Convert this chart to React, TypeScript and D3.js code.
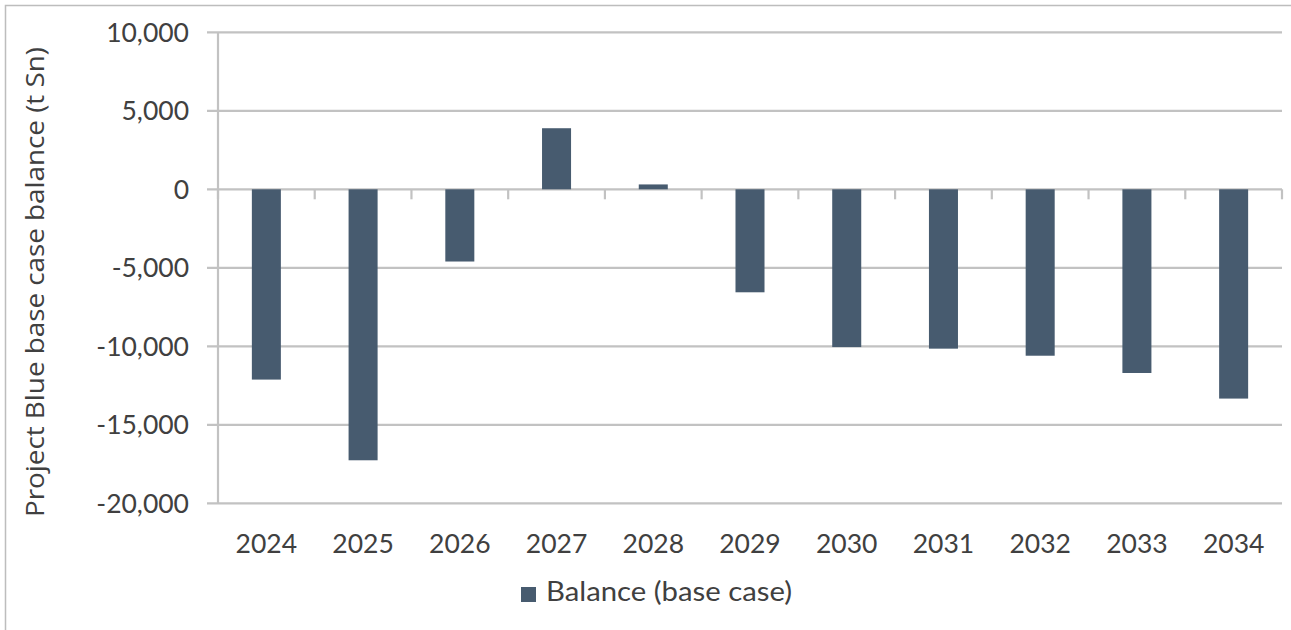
import React from "react";
import * as d3 from "d3";

const years = ["2024", "2025", "2026", "2027", "2028", "2029", "2030", "2031", "2032", "2033", "2034"];
const balance = [-12120, -17260, -4600, 3890, 310, -6560, -10050, -10150, -10600, -11700, -13330];
const yTicks = [10000, 5000, 0, -5000, -10000, -15000, -20000];
const seriesName = "Balance (base case)";
const yTitle = "Project Blue base case balance (t Sn)";

const W = 1291;
const H = 630;
const left = 218;
const right = 1282;
const top = 32.3;
const bottom = 503.3;
const barColor = "#475b6f";
const gridColor = "#c2c2c2";
const textColor = "#404040";
const font = "Lato, 'Open Sans', sans-serif";

export default function App() {
  const x = d3.scaleBand<string>().domain(years).range([left, right]).paddingInner(0.7).paddingOuter(0.35);
  const xb = d3.scaleBand<string>().domain(years).range([left, right]);
  const y = d3.scaleLinear().domain([-20000, 10000]).range([bottom, top]);
  const fmt = d3.format(",");
  const y0 = y(0);

  return (
    <svg width={W} height={H} style={{ position: "absolute", left: 0, top: 0, background: "#fff" }}>
      <rect x={5.5} y={5.5} width={W + 10} height={H + 10} fill="#fff" stroke="#bdbdbd" strokeWidth={1.5} />
      {yTicks.map((t) => (
        <line key={"g" + t} x1={207} x2={right} y1={y(t)} y2={y(t)} stroke={gridColor} strokeWidth={2.2} />
      ))}
      <line x1={left} x2={left} y1={top} y2={bottom} stroke={gridColor} strokeWidth={2.2} />
      {years.map((yr) => (
        <line key={"t" + yr} x1={xb(yr)!} x2={xb(yr)!} y1={y0} y2={y0 + 10} stroke={gridColor} strokeWidth={2.2} />
      ))}
      <line x1={right} x2={right} y1={y0} y2={y0 + 10} stroke={gridColor} strokeWidth={2.2} />
      {years.map((yr, i) => {
        const v = balance[i];
        const yTop = y(Math.max(0, v));
        const yBot = y(Math.min(0, v));
        return (
          <rect key={"b" + yr} x={x(yr)!} width={x.bandwidth()} y={yTop} height={yBot - yTop} fill={barColor} />
        );
      })}
      {yTicks.map((t) => (
        <text key={"l" + t} x={189} y={y(t)} dy="0.35em" textAnchor="end" fontFamily={font} fontSize={26.5} fill={textColor}>
          {fmt(t).replace("−", "-")}
        </text>
      ))}
      {years.map((yr) => (
        <text key={"x" + yr} x={xb(yr)! + xb.bandwidth() / 2} y={553} textAnchor="middle" fontFamily={font} fontSize={26.5} fill={textColor}>
          {yr}
        </text>
      ))}
      <text
        transform={`translate(44, 282) rotate(-90)`}
        textAnchor="middle"
        fontFamily="'Open Sans', sans-serif"
        fontSize={26}
        textLength={470}
        lengthAdjust="spacingAndGlyphs"
        fill={textColor}
      >
        {yTitle}
      </text>
      <rect x={521} y={587} width={15} height={15} fill={barColor} />
      <text x={546} y={601} fontFamily={font} fontSize={27} textLength={246} lengthAdjust="spacingAndGlyphs" fill={textColor}>
        {seriesName}
      </text>
    </svg>
  );
}
